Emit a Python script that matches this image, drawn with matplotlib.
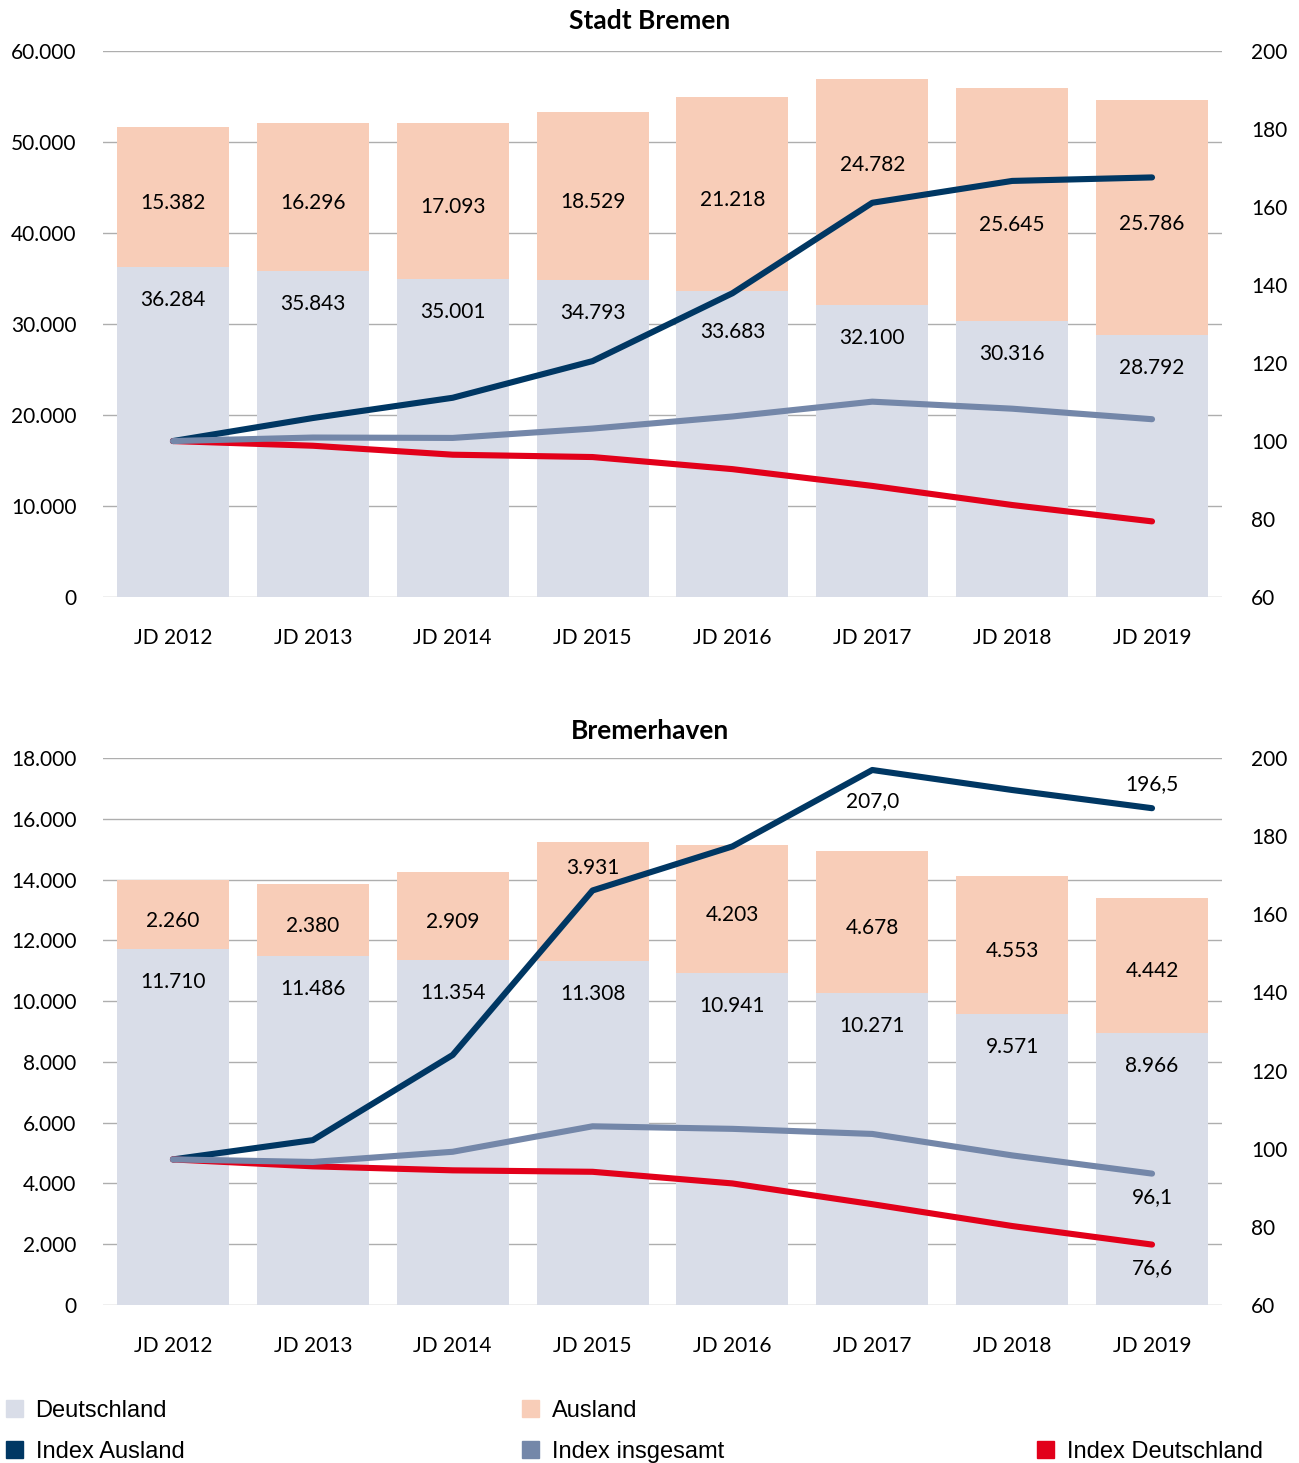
import matplotlib
matplotlib.use("Agg")
import matplotlib.pyplot as plt
import numpy as np
from matplotlib.patches import Patch

# Daten
jahre = ["JD 2012", "JD 2013", "JD 2014", "JD 2015", "JD 2016", "JD 2017", "JD 2018", "JD 2019"]

hb_deutschland = [36284, 35843, 35001, 34793, 33683, 32100, 30316, 28792]
hb_ausland = [15382, 16296, 17093, 18529, 21218, 24782, 25645, 25786]
hb_idx_ausland = [100, 105.9, 111.1, 120.5, 137.9, 161.1, 166.7, 167.6]
hb_idx_insgesamt = [100, 100.9, 100.8, 103.2, 106.3, 110.1, 108.3, 105.6]
hb_idx_deutschland = [100, 98.8, 96.5, 95.9, 92.8, 88.5, 83.6, 79.4]

bhv_deutschland = [11710, 11486, 11354, 11308, 10941, 10271, 9571, 8966]
bhv_ausland = [2260, 2380, 2909, 3931, 4203, 4678, 4553, 4442]
bhv_idx_ausland = [100, 105.3, 128.7, 173.9, 186.0, 207.0, 201.5, 196.5]
bhv_idx_insgesamt = [100, 99.3, 102.1, 109.1, 108.4, 107.0, 101.1, 96.1]
bhv_idx_deutschland = [100, 98.1, 97.0, 96.6, 93.4, 87.7, 81.7, 76.6]

# Farben
c_de = "#d9dde8"
c_aus = "#f8cdb8"
c_idx_aus = "#003763"
c_idx_ges = "#7487a9"
c_idx_de = "#e2001a"
c_grid = "#aeaeae"

plt.rcParams["font.family"] = ["Lato", "DejaVu Sans"]
FS = 15


def tsd(v):
    return f"{int(v):,}".replace(",", ".")


def dez(v):
    return f"{v:.1f}".replace(".", ",")


def panel(ax, de, aus, i_aus, i_ges, i_de, ymax, ystep, y2max,
          aus_shift, de_shift, line_labels):
    x = np.arange(len(jahre))
    ax.bar(x, de, width=0.8, color=c_de, zorder=2)
    ax.bar(x, aus, width=0.8, bottom=de, color=c_aus, zorder=2)
    ax.set_xlim(-0.5, len(jahre) - 0.5)
    ax.set_ylim(0, ymax)
    ax.set_yticks(np.arange(0, ymax + 1, ystep))
    ax.set_yticklabels([tsd(v) for v in np.arange(0, ymax + 1, ystep)])
    ax.set_xticks(x)
    ax.set_xticklabels(jahre)
    ax.grid(axis="y", color=c_grid, lw=1.0, zorder=0)
    for s in ax.spines.values():
        s.set_visible(False)
    ax.tick_params(axis="y", length=0, pad=19, labelsize=FS)
    ax.tick_params(axis="x", length=0, pad=22, labelsize=FS)

    # Datenbeschriftungen Balken
    for i in range(len(jahre)):
        ax.annotate(tsd(aus[i]), (x[i], de[i] + aus[i] / 2), xytext=(0, -6 - aus_shift[i]),
                    textcoords="offset pixels", ha="center", va="center", fontsize=FS, zorder=5)
        ax.annotate(tsd(de[i]), (x[i], de[i]), xytext=(0, -33 - de_shift[i]),
                    textcoords="offset pixels", ha="center", va="center", fontsize=FS, zorder=5)

    ax2 = ax.twinx()
    ax2.set_ylim(60, y2max)
    ax2.set_yticks(np.linspace(60, y2max, 8))
    ax2.set_yticklabels([str(v) for v in range(60, 201, 20)])
    ax2.tick_params(axis="y", length=0, pad=21, labelsize=FS)
    for s in ax2.spines.values():
        s.set_visible(False)
    kw = dict(lw=4.4, solid_capstyle="round", solid_joinstyle="round")
    ax2.plot(x, i_aus, color=c_idx_aus, **kw)
    ax2.plot(x, i_de, color=c_idx_de, **kw)
    ax2.plot(x, i_ges, color=c_idx_ges, **kw)
    serien = {"aus": i_aus, "ges": i_ges, "de": i_de}
    for idx, key, dy in line_labels:
        v = serien[key][idx]
        ax2.annotate(dez(v), (x[idx], v), xytext=(0, dy), textcoords="offset pixels",
                     ha="center", va="center", fontsize=FS)
    return ax2


fig = plt.figure(figsize=(12.99, 14.63), dpi=100)
ax_top = fig.add_axes([0.0793, 0.5919, 0.8614, 0.3732])
ax_bot = fig.add_axes([0.0793, 0.1080, 0.8614, 0.3739])

panel(ax_top, hb_deutschland, hb_ausland, hb_idx_ausland, hb_idx_insgesamt, hb_idx_deutschland,
      60000, 10000, 200,
      aus_shift=[0, 0, 0, 0, 0, -33, 15, 0],
      de_shift=[0, 0, 0, 0, 8, 0, 0, 0],
      line_labels=[])

panel(ax_bot, bhv_deutschland, bhv_ausland, bhv_idx_ausland, bhv_idx_insgesamt, bhv_idx_deutschland,
      18000, 2000, 210.3,
      aus_shift=[0, 0, 0, -40, 0, 0, 0, 0],
      de_shift=[0, 0, 0, 0, 0, 0, 0, 0],
      line_labels=[(5, "aus", -31), (7, "aus", 24), (7, "ges", -23), (7, "de", -24)])

fig.text(0.5004, 1 - 21 / 1463, "Stadt Bremen", ha="center", va="center",
         fontsize=19, fontweight="bold")
fig.text(0.5004, 1 - 731 / 1463, "Bremerhaven", ha="center", va="center",
         fontsize=19, fontweight="bold")

# Legende
leg_kw = dict(frameon=False, loc="upper left", handlelength=0.7, handleheight=0.7,
              handletextpad=0.55, labelspacing=0.8, borderaxespad=0, borderpad=0,
              prop={"family": "Liberation Sans", "size": 17})
fig.legend(handles=[Patch(color=c_de, label="Deutschland"), Patch(color=c_idx_aus, label="Index Ausland")],
           bbox_to_anchor=(6 / 1299, 1 - 1400 / 1463), **leg_kw)
fig.legend(handles=[Patch(color=c_aus, label="Ausland"), Patch(color=c_idx_ges, label="Index insgesamt")],
           bbox_to_anchor=(522 / 1299, 1 - 1400 / 1463), **leg_kw)
fig.legend(handles=[Patch(color=c_idx_de, label="Index Deutschland")],
           bbox_to_anchor=(1037 / 1299, 1 - 1441 / 1463), **leg_kw)

fig.savefig("out.png", dpi=100)
